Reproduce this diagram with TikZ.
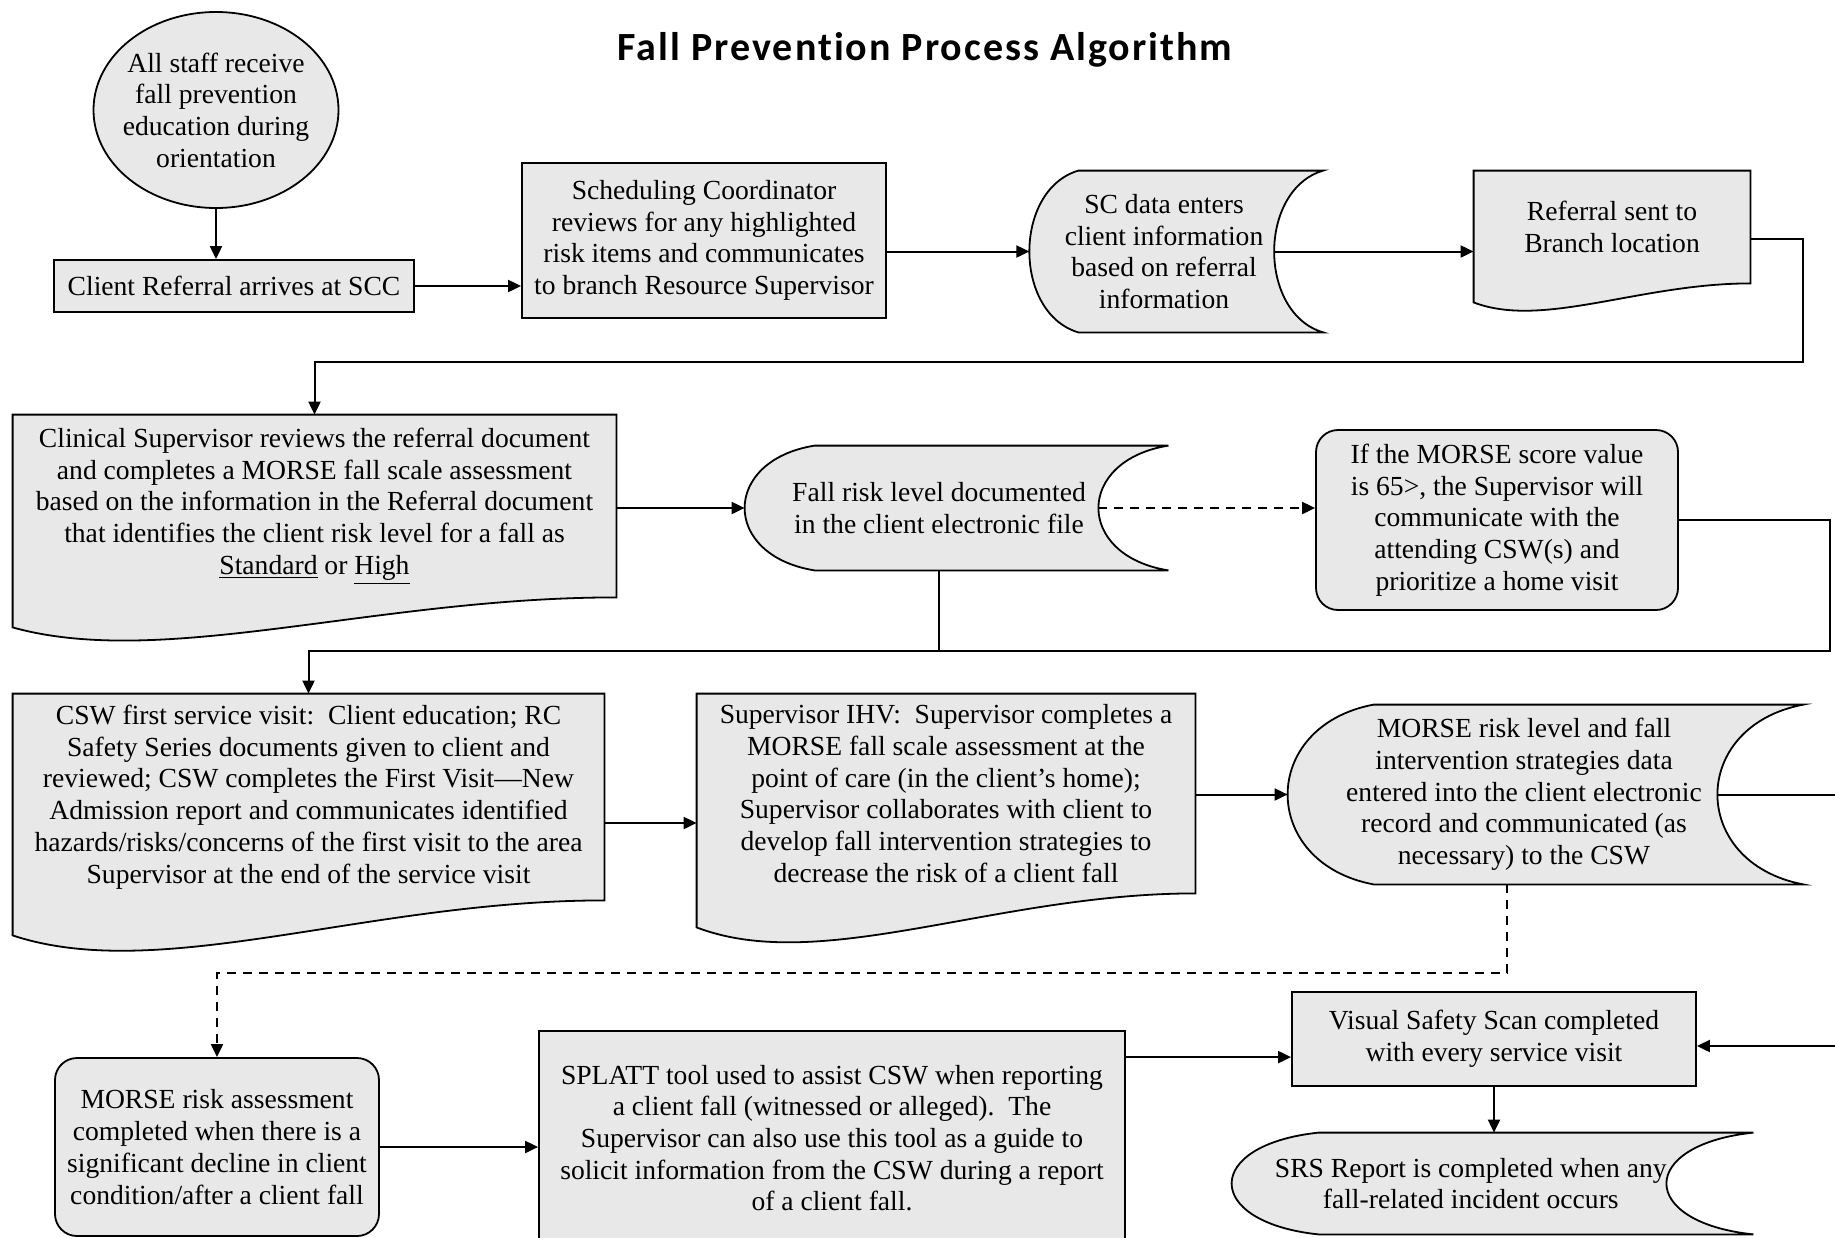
\documentclass[tikz,border=0pt]{standalone}
\usepackage{fontspec}
\setmainfont{Liberation Serif}
\newfontfamily\headfont[LetterSpace=5,Ligatures=NoCommon]{Carlito}
\usetikzlibrary{arrows.meta,shapes.geometric,calc,backgrounds}

\definecolor{boxfill}{RGB}{232,232,232}

\tikzset{
  every node/.style={font=\fontsize{13.8pt}{15.85pt}\selectfont},
  procbox/.style={draw, fill=boxfill, line width=0.9pt, align=center, inner sep=2pt},
  roundbox/.style={procbox, rounded corners=11pt},
  shapetext/.style={align=center, inner sep=2pt},
  outline/.style={draw, fill=boxfill, line width=0.9pt},
  flow/.style={line width=1pt, -{Triangle[length=6.5pt,width=6pt]}},
  link/.style={line width=1pt},
  dashflow/.style={flow, dash pattern=on 4.5pt off 3.5pt},
}

% document outline round a text node: node, wave depth
\newcommand{\docoutline}[2]{%
  \path[outline] (#1.north west) -- (#1.north east) -- (#1.south east)
    .. controls ($(#1.south east)!0.4!(#1.south west)$)
       and ($(#1.south west)!0.25!(#1.south east)+(0,2.4*#2)$)
    .. ($(#1.south west)+(0,#2)$) -- cycle;
}

% stored data outline round a text node: node, arc depth
\newcommand{\storedoutline}[2]{%
  \path[outline] ($(#1.north west)+(#2,0)$) -- ($(#1.north east)+(#2/2,0)$)
    .. controls ($(#1.north east)!0.12!(#1.south east)+(-5*#2/6,0)$)
       and ($(#1.south east)!0.12!(#1.north east)+(-5*#2/6,0)$)
    .. ($(#1.south east)+(#2/2,0)$) -- ($(#1.south west)+(#2,0)$)
    .. controls ($(#1.south west)!0.12!(#1.north west)+(-#2/3,0)$)
       and ($(#1.north west)!0.12!(#1.south west)+(-#2/3,0)$)
    .. ($(#1.north west)+(#2,0)$) -- cycle;
  \coordinate (#1-in) at ($(#1.east)+(-#2/2,0)$);
}

\begin{document}
\begin{tikzpicture}[x=0.5pt, y=-0.5pt]
    \useasboundingbox (0,0) rectangle (1835,1237);
    \clip (0,0) rectangle (1835,1237);

    \node[font=\headfont\bfseries\fontsize{20pt}{23pt}\selectfont] (title) at (925,50) {Fall Prevention Process Algorithm};

    % first row
    \node[procbox, ellipse, inner sep=-6pt, minimum width=122.5pt, minimum height=98pt] (E1) at (216,110) {All staff receive\\fall prevention\\education during\\orientation};
    \node[procbox, minimum width=180pt, minimum height=26pt] (A) at (234,286) {Client Referral arrives at SCC};
    \node[procbox, minimum width=182pt, minimum height=77.5pt] (B) at (704,240.5) {Scheduling Coordinator\\reviews for any highlighted\\risk items and communicates\\to branch Resource Supervisor};
    \node[shapetext, minimum width=134.25pt, minimum height=80.5pt] (S1) at (1164,251.5) {SC data enters\\client information\\based on referral\\information};
    \node[shapetext, minimum width=138pt, minimum height=56pt] (D0) at (1612,227) {Referral sent to\\Branch location};

    % second row
    \node[shapetext, minimum width=301.5pt, minimum height=91pt] (D1) at (314.5,506) {Clinical Supervisor reviews the referral document\\and completes a MORSE fall scale assessment\\based on the information in the Referral document\\that identifies the client risk level for a fall as\\\underline{Standard} or \underline{High}};
    \node[shapetext, minimum width=194pt, minimum height=62pt] (S2) at (939,508) {Fall risk level documented\\in the client electronic file};
    \node[roundbox, minimum width=181pt, minimum height=90pt] (R1) at (1497,520) {If the MORSE score value\\is 65>, the Supervisor will\\communicate with the\\attending CSW(s) and\\prioritize a home visit};

    % third row
    \node[shapetext, minimum width=295.5pt, minimum height=103pt] (D2) at (308.5,797) {CSW first service visit:\ \ Client education; RC\\Safety Series documents given to client and\\reviewed; CSW completes the First Visit—New\\Admission report and communicates identified\\hazards/risks/concerns of the first visit to the area\\Supervisor at the end of the service visit};
    \node[shapetext, minimum width=249pt, minimum height=99.5pt] (D3) at (946,793.5) {Supervisor IHV:\ \ Supervisor completes a\\MORSE fall scale assessment at the\\point of care (in the client’s home);\\Supervisor collaborates with client to\\develop fall intervention strategies to\\decrease the risk of a client fall};
    \node[shapetext, minimum width=236pt, minimum height=89.5pt] (S3) at (1524,794.5) {MORSE risk level and fall\\intervention strategies data\\entered into the client electronic\\record and communicated (as\\necessary) to the CSW};

    % fourth row
    \node[roundbox, minimum width=162pt, minimum height=89pt] (R2) at (217,1147) {MORSE risk assessment\\completed when there is a\\significant decline in client\\condition/after a client fall};
    \node[procbox, minimum width=293pt, minimum height=107pt] (SP) at (832,1138) {SPLATT tool used to assist CSW when reporting\\a client fall (witnessed or alleged).\ \ The\\Supervisor can also use this tool as a guide to\\solicit information from the CSW during a report\\of a client fall.};
    \node[procbox, minimum width=202pt, minimum height=47pt] (VSS) at (1494,1039) {Visual Safety Scan completed\\with every service visit};
    \node[shapetext, minimum width=238.75pt, minimum height=50.5pt] (S4) at (1470.75,1183.5) {SRS Report is completed when any\\fall-related incident occurs};

    \begin{scope}[on background layer]
      \storedoutline{S1}{49}
      \storedoutline{S2}{70}
      \storedoutline{S3}{86}
      \storedoutline{S4}{87}
      \docoutline{D0}{19}
      \docoutline{D1}{30}
      \docoutline{D2}{35}
      \docoutline{D3}{34}
    \end{scope}

    % turning points of the long connectors
    \coordinate (rt1) at (1803,362);
    \coordinate (rt2) at (1830,651);
    \coordinate (rt3) at (1835,1046);
    \coordinate (rt4) at (1835,794.5);
    \coordinate (rt5) at (0,973);

    \draw[flow] (E1.south) -- (E1.south |- A.north);
    \draw[flow] (A.east) -- (A.east -| B.west);
    \draw[flow] (B.east |- S1.west) -- (S1.west);
    \draw[flow] (S1-in) -- (S1-in -| D0.west);
    \draw[flow] ([yshift=-6pt]D0.east) -| (rt1) -| (D1.north);

    \draw[flow] (D1.east |- S2.west) -- (S2.west);
    \draw[dashflow] (S2-in) -- (S2-in -| R1.west);
    \draw[flow] (R1.east) -| (rt2) -| (D2.north);
    \draw[link] (S2.south) -- (S2.south |- rt2);

    \draw[flow] ([yshift=-13pt]D2.east) coordinate (d2out) -- (d2out -| D3.west);
    \draw[flow] (D3.east |- S3.west) -- (S3.west);
    \draw[link] (S3-in) -- (rt4);
    \draw[dashflow] ([xshift=-8.5pt]S3.south) |- (rt5 -| R2.north) -- (R2.north);

    \draw[flow] (R2.east) -- (R2.east -| SP.west);
    \draw[flow] ([yshift=-13.5pt]SP.north east) coordinate (spout) -- (spout -| VSS.west);
    \draw[flow] (rt3) -- (rt3 -| VSS.east);
    \draw[flow] (VSS.south) -- (VSS.south |- S4.north);
\end{tikzpicture}
\end{document}
